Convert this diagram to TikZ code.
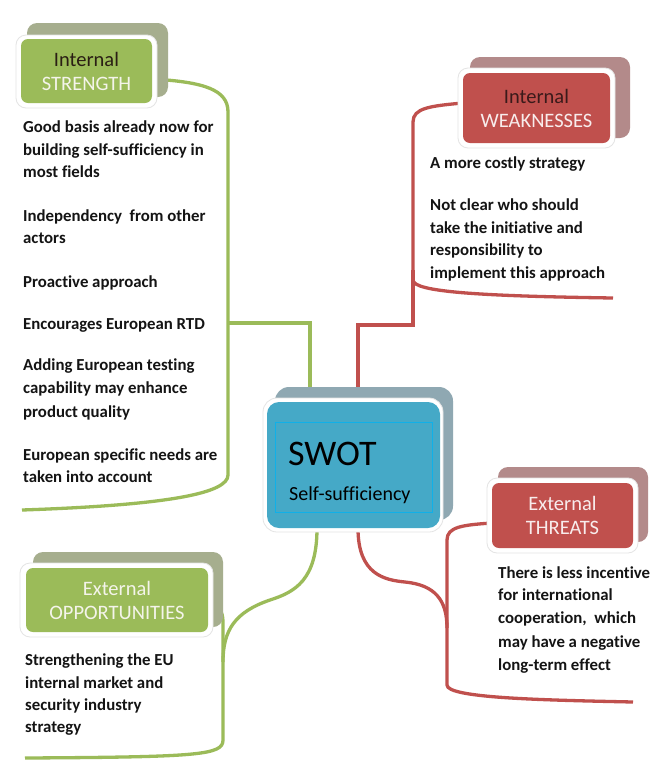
\documentclass[tikz,border=0pt]{standalone}
\usepackage{fontspec}
\setmainfont[Ligatures=NoCommon]{Carlito}
\usetikzlibrary{calc}
\definecolor{cgreen}{HTML}{9BBB59}
\definecolor{cgreensh}{HTML}{A6AE8E}
\definecolor{cred}{HTML}{C0504D}
\definecolor{credsh}{HTML}{B38A8A}
\definecolor{cblue}{HTML}{45A9C7}
\definecolor{cbluesh}{HTML}{8FA8B2}
\definecolor{ccyan}{HTML}{10B0E8}
\definecolor{hdark}{HTML}{2A1E14}
\definecolor{hdarkr}{HTML}{3A1A1A}
\definecolor{hlight}{HTML}{F4F4EA}
\definecolor{hlightr}{HTML}{F8ECEC}
\definecolor{glow}{HTML}{E4E4E4}
\definecolor{txt}{HTML}{141414}
\pgfdeclarelayer{bg}
\pgfsetlayers{bg,main}
\begin{document}
\begin{tikzpicture}[x=1pt,y=-1pt,
  conG/.style={draw=cgreen,line width=3.3pt},
  conR/.style={draw=cred,line width=3.3pt},
  body/.style={anchor=base west,inner sep=0pt,text=txt,font=\fontsize{16.8}{23}\selectfont\bfseries},
  hdr/.style={inner sep=0pt,rounded corners=7pt,align=center,font=\fontsize{20.5}{24}\selectfont},
  shadowbox/.style={rounded corners=10pt},
  rim/.style={fill=white,draw=glow,line width=0.8pt,rounded corners=10pt},
]
\useasboundingbox (0,0) rectangle (649,769);

% ---------- STRENGTH ----------
\fill[cgreensh,shadowbox] (27,23) rectangle (168,97);
\path[rim] (16,35) rectangle (157,108);
\node[hdr,fill=cgreen,minimum width=131pt,minimum height=64pt] (S) at (86.5,71)
  {\textcolor{hdark}{Internal}\\\textcolor{hlight}{STRENGTH}};

% ---------- WEAKNESSES ----------
\fill[credsh,shadowbox] (470,57) rectangle (630,138);
\path[rim] (458,68) rectangle (615,148);
\node[hdr,fill=cred,minimum width=147pt,minimum height=70pt] (W) at (536.5,108)
  {\textcolor{hdarkr}{Internal}\\\textcolor{hlightr}{WEAKNESSES}};

% ---------- SWOT centre ----------
\fill[cbluesh,rounded corners=14pt] (275,387) rectangle (453,520);
\path[rim,rounded corners=14pt] (263,398) rectangle (443,532);
\node[fill=cblue,rounded corners=12pt,minimum width=173pt,minimum height=126pt,inner sep=0pt] (C) at (353.5,465) {};
\node[draw=ccyan,line width=0.8pt,minimum width=157pt,minimum height=90pt,inner sep=0pt] (Ci) at (353.5,467) {};
\node[anchor=base west,inner sep=0pt,font=\fontsize{36}{36}\selectfont] (swot) at (288,465) {SWOT};
\node[anchor=base west,inner sep=0pt,font=\fontsize{20}{24}\selectfont] (self) at (289,500) {Self-sufficiency};

% ---------- THREATS ----------
\fill[credsh,shadowbox] (498,467) rectangle (648,542);
\path[rim] (487,478) rectangle (638,553);
\node[hdr,fill=cred,minimum width=141pt,minimum height=65pt,text=hlightr] (T) at (562.5,515.5)
  {External\\THREATS};

% ---------- OPPORTUNITIES ----------
\fill[cgreensh,shadowbox] (33,552) rectangle (223,627);
\path[rim] (20,563) rectangle (213,637);
\node[hdr,fill=cgreen,minimum width=182pt,minimum height=64pt,text=hlight] (O) at (117,600)
  {External\\OPPORTUNITIES};

% ---------- bracket coordinates ----------
\coordinate (sEnd) at (22,510);
\coordinate (sJ) at (228,323);
\coordinate (wEnd) at (613,298);
\coordinate (wK) at (413,270);
\coordinate (wJ) at (413,325);
\coordinate (tEnd) at (633,702);
\coordinate (oEnd) at (25,758);

% ---------- connectors (behind the boxes) ----------
\begin{pgfonlayer}{bg}
\fill[white] (0,0) rectangle (649,769);
\draw[conG] ([yshift=-8pt]S.east) .. controls (205,82) and (228,90) .. (228,112)
  -- (228,475) .. controls (228,493) and (170,505) .. (sEnd);
\draw[conG] (sJ) -| ([xshift=-43.5pt]C.north);

\draw[conR] ([yshift=5pt]W.west) .. controls (430,106) and (413,108) .. (413,122)
  -- (413,280) .. controls (413,292) and (480,296) .. (wEnd);
\draw[conR] (wK) -- (wJ) -| ([xshift=4.5pt]C.north);

\draw[conR] ([yshift=-7.5pt]T.west) .. controls (462,525) and (447,527) .. (447,540)
  -- (447,685) .. controls (447,698) and (540,700) .. (tEnd);
\draw[conR] ([xshift=4.5pt]C.south) .. controls (358,575) and (385,580) .. (405,582)
  .. controls (435,585) and (447,600) .. (447,628);

\draw[conG] ([yshift=-5pt]O.east) .. controls (218,606) and (223,610) .. (223,622)
  -- (223,740) .. controls (223,755) and (200,757) .. (oEnd);
\draw[conG] ([xshift=-36.5pt]C.south) .. controls (317,580) and (295,592) .. (270,600)
  .. controls (235,612) and (223,630) .. (223,662);
\end{pgfonlayer}

% ---------- texts ----------
\node[body] (s1) at (23,132) {Good basis already now for};
\node[body] (s2) at (23,155) {building self-sufficiency in};
\node[body] (s3) at (23,177) {most fields};
\node[body] (s4) at (23,221) {Independency\ \ from other};
\node[body] (s5) at (23,243) {actors};
\node[body] (s6) at (23,287) {Proactive approach};
\node[body] (s7) at (23,329) {Encourages European RTD};
\node[body] (s8) at (23,370) {Adding European testing};
\node[body] (s9) at (23,393) {capability may enhance};
\node[body] (s10) at (23,417) {product quality};
\node[body] (s11) at (23,460) {European specific needs are};
\node[body] (s12) at (23,482) {taken into account};

\node[body] (w1) at (430,168) {A more costly strategy};
\node[body] (w2) at (430,210) {Not clear who should};
\node[body] (w3) at (430,233) {take the initiative and};
\node[body] (w4) at (430,255) {responsibility to};
\node[body] (w5) at (430,278) {implement this approach};

\node[body] (t1) at (498,578) {There is less incentive};
\node[body] (t2) at (498,600) {for international};
\node[body] (t3) at (498,623) {cooperation,\ \ which};
\node[body] (t4) at (498,647) {may have a negative};
\node[body] (t5) at (498,670) {long-term effect};

\node[body] (o1) at (25,665) {Strengthening the EU};
\node[body] (o2) at (25,688) {internal market and};
\node[body] (o3) at (25,710) {security industry};
\node[body] (o4) at (25,732) {strategy};
\end{tikzpicture}
\end{document}
